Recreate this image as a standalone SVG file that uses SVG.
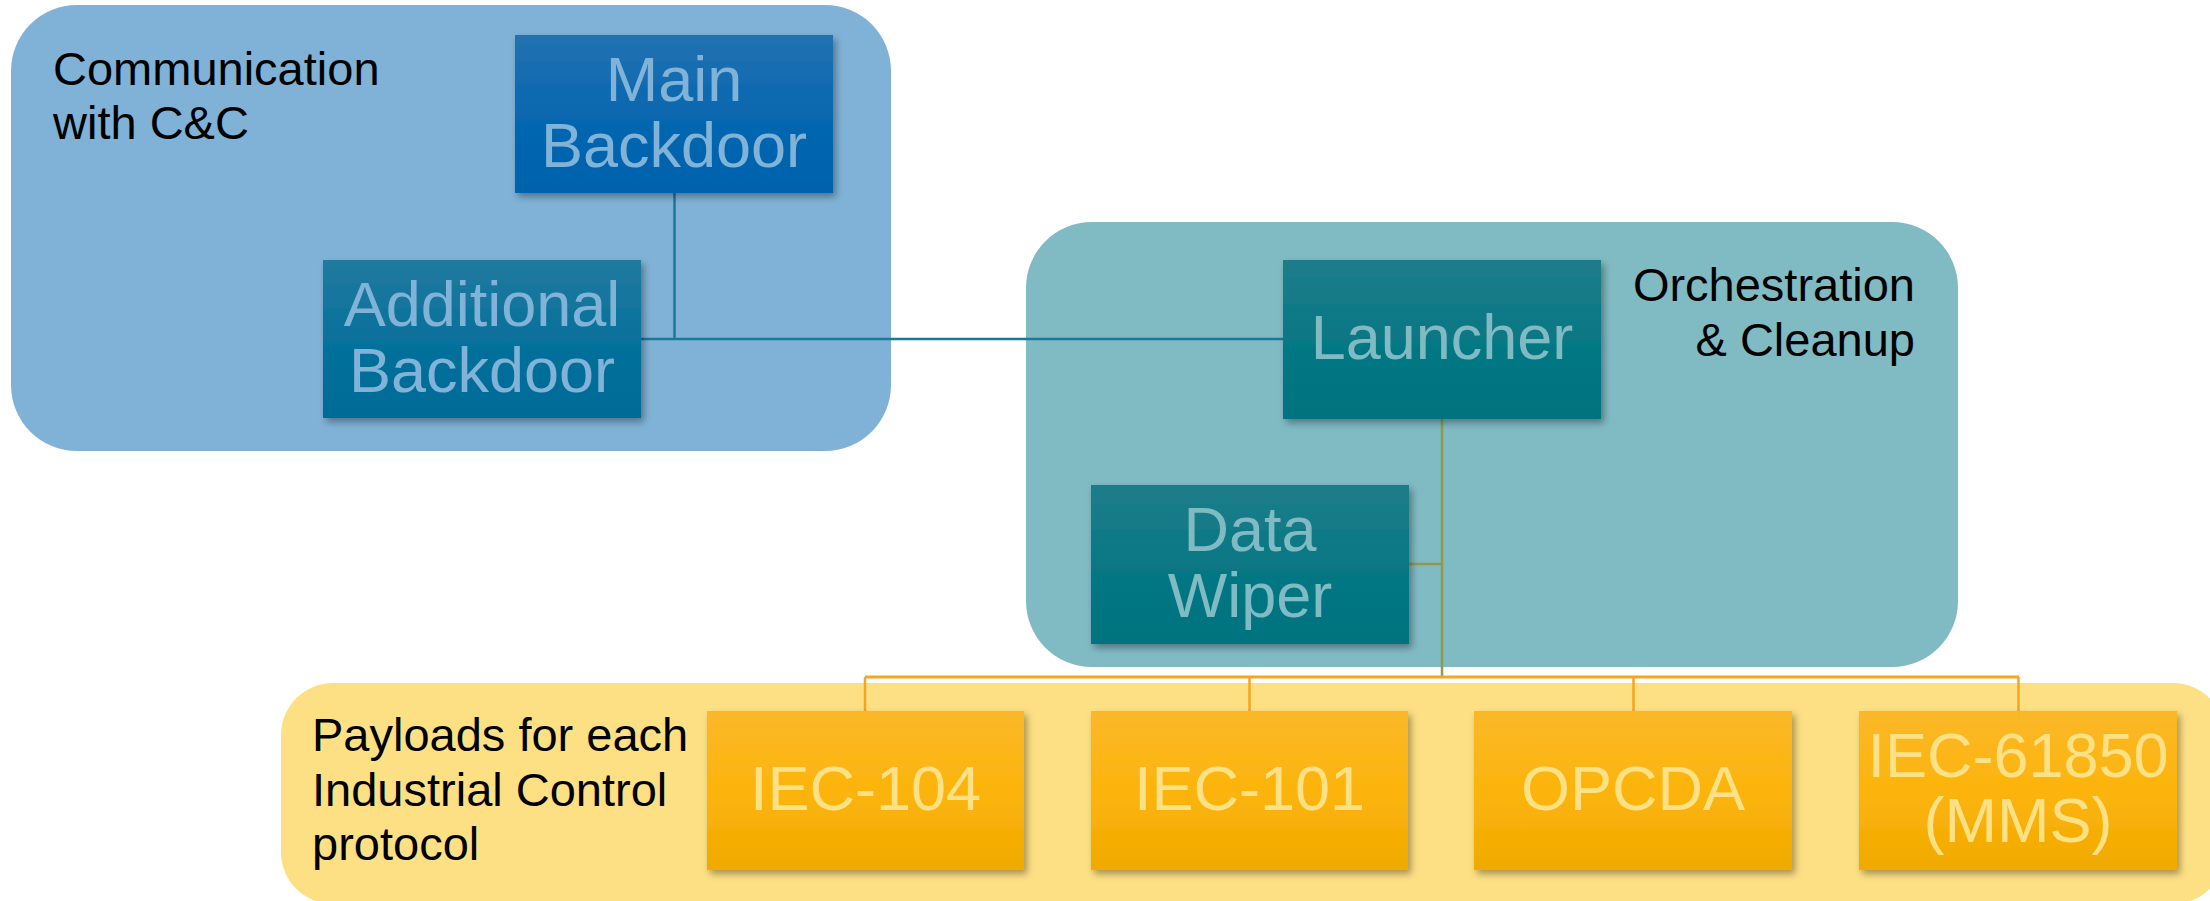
<svg xmlns="http://www.w3.org/2000/svg" width="2210" height="901" viewBox="0 0 2210 901">
<style>
.lbl{font-family:"Liberation Sans",Arial,sans-serif;font-size:47px;fill:#000}
.nt{font-family:"Liberation Sans",Arial,sans-serif;font-size:63px;text-anchor:middle}
.tb{fill:#80b3d7}
.tt{fill:#80bac3}
.ty{fill:#fde184}
.c1{stroke:#18799a;stroke-width:2.5;fill:none}
.c2{stroke:#8f9a4c;stroke-width:2.5;fill:none}
.c3{stroke:#f7a41f;stroke-width:2.5;fill:none}
</style>
<defs>
<linearGradient id="gMain" x1="0" y1="0" x2="0" y2="1"><stop offset="0" stop-color="#2372b1"/><stop offset="0.5" stop-color="#0767b0"/><stop offset="1" stop-color="#0062ac"/></linearGradient>
<linearGradient id="gAdd" x1="0" y1="0" x2="0" y2="1"><stop offset="0" stop-color="#227a9f"/><stop offset="0.5" stop-color="#07719b"/><stop offset="1" stop-color="#006b97"/></linearGradient>
<linearGradient id="gTeal" x1="0" y1="0" x2="0" y2="1"><stop offset="0" stop-color="#1f7c8a"/><stop offset="0.5" stop-color="#077884"/><stop offset="1" stop-color="#00737f"/></linearGradient>
<linearGradient id="gOr" x1="0" y1="0" x2="0" y2="1"><stop offset="0" stop-color="#fbb829"/><stop offset="0.5" stop-color="#fcb40c"/><stop offset="1" stop-color="#f0aa00"/></linearGradient>
<filter id="sh" x="-10%" y="-10%" width="125%" height="130%"><feDropShadow dx="3" dy="4" stdDeviation="3.5" flood-color="#000" flood-opacity="0.35"/></filter>
</defs>
<rect width="2210" height="901" fill="#ffffff"/>

<g id="group-cc">
<rect x="11" y="5" width="880" height="446" rx="66" ry="66" fill="#7fb2d6"/>
<text class="lbl" x="53" y="85">Communication</text>
<text class="lbl" x="53" y="139">with C&amp;C</text>
</g>
<g id="group-orch">
<rect x="1026" y="222" width="932" height="445" rx="66" ry="66" fill="#80bac3"/>
<text class="lbl" x="1915" y="301" text-anchor="end">Orchestration</text>
<text class="lbl" x="1915" y="356" text-anchor="end">&amp; Cleanup</text>
</g>
<g id="group-payloads">
<rect x="281" y="683" width="1944" height="221" rx="52" ry="52" fill="#fde084"/>
<text class="lbl" x="312" y="751">Payloads for each</text>
<text class="lbl" x="312" y="806">Industrial Control</text>
<text class="lbl" x="312" y="860">protocol</text>
</g>

<g id="connectors">
<polyline class="c1" points="674.5,193 674.5,339"/>
<polyline class="c1" points="641,339 1283,339"/>
<polyline class="c2" points="1442,419 1442,677"/>
<polyline class="c2" points="1408,564 1442,564"/>
<polyline class="c3" points="865,677 2019,677" style="stroke-width:3"/>
<polyline class="c3" points="865,677 865,711"/>
<polyline class="c3" points="1249.5,677 1249.5,711"/>
<polyline class="c3" points="1633.5,677 1633.5,711"/>
<polyline class="c3" points="2018.5,677 2018.5,711"/>
</g>

<g id="main-backdoor">
<rect x="515" y="35" width="318" height="158" fill="url(#gMain)" filter="url(#sh)"/>
<text class="nt tb" x="674" y="101">Main</text>
<text class="nt tb" x="674" y="167">Backdoor</text>
</g>
<g id="additional-backdoor">
<rect x="323" y="260" width="318" height="158" fill="url(#gAdd)" filter="url(#sh)"/>
<text class="nt tb" x="482" y="326">Additional</text>
<text class="nt tb" x="482" y="392">Backdoor</text>
</g>
<g id="launcher">
<rect x="1283" y="260" width="318" height="159" fill="url(#gTeal)" filter="url(#sh)"/>
<text class="nt tt" x="1442" y="359">Launcher</text>
</g>
<g id="data-wiper">
<rect x="1091" y="485" width="318" height="159" fill="url(#gTeal)" filter="url(#sh)"/>
<text class="nt tt" x="1250" y="551">Data</text>
<text class="nt tt" x="1250" y="617">Wiper</text>
</g>
<g id="iec-104">
<rect x="707" y="711" width="317" height="159" fill="url(#gOr)" filter="url(#sh)"/>
<text class="nt ty" x="865.5" y="810">IEC-104</text>
</g>
<g id="iec-101">
<rect x="1091" y="711" width="317" height="159" fill="url(#gOr)" filter="url(#sh)"/>
<text class="nt ty" x="1249.5" y="810">IEC-101</text>
</g>
<g id="opcda">
<rect x="1474" y="711" width="318" height="159" fill="url(#gOr)" filter="url(#sh)"/>
<text class="nt ty" x="1633" y="810">OPCDA</text>
</g>
<g id="iec-61850">
<rect x="1859" y="711" width="318" height="159" fill="url(#gOr)" filter="url(#sh)"/>
<text class="nt ty" x="2018" y="777">IEC-61850</text>
<text class="nt ty" x="2018" y="842">(MMS)</text>
</g>
</svg>
